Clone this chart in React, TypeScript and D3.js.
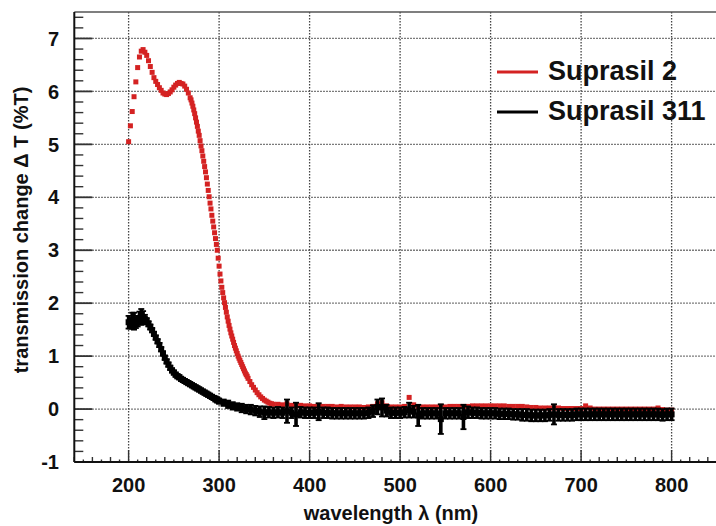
import React from "react";
import * as d3 from "d3";

const xTicks = [200, 300, 400, 500, 600, 700, 800];
const yTicks = [-1, 0, 1, 2, 3, 4, 5, 6, 7];

// Suprasil 2: [wavelength nm, delta T %]
const suprasil2: [number, number][] = [
  [200, 5.05], [202, 5.35], [204, 5.62], [206, 5.9], [208, 6.18], [210, 6.45], [212, 6.65],
  [214, 6.76], [216, 6.79], [218, 6.74], [220, 6.68], [222, 6.58], [224, 6.47], [226, 6.36],
  [228, 6.26], [230, 6.19], [232, 6.13], [234, 6.07], [236, 6.02], [238, 5.97], [240, 5.95],
  [242, 5.94], [244, 5.96], [246, 5.99], [248, 6.03], [250, 6.08], [252, 6.12], [254, 6.15],
  [256, 6.17], [258, 6.15], [260, 6.14], [262, 6.1], [264, 6.04], [266, 5.97], [268, 5.88],
  [269, 5.84], [270, 5.78], [271, 5.72], [272, 5.65], [273, 5.58], [274, 5.5], [275, 5.42],
  [276, 5.34], [277, 5.25], [278, 5.17], [279, 5.07], [280, 4.97], [281, 4.88], [282, 4.78],
  [283, 4.68], [284, 4.58], [285, 4.48], [286, 4.37], [287, 4.25], [288, 4.13], [289, 4.01],
  [290, 3.89], [291, 3.78], [292, 3.66], [293, 3.55], [294, 3.44], [295, 3.33], [296, 3.22],
  [297, 3.11], [298, 3.0], [299, 2.85], [300, 2.7], [301, 2.55], [302, 2.42], [303, 2.3],
  [304, 2.2], [305, 2.1], [306, 2.01], [307, 1.92], [308, 1.83], [309, 1.74], [310, 1.66],
  [311, 1.58], [312, 1.51], [313, 1.44], [314, 1.38], [315, 1.32], [316, 1.26], [317, 1.2],
  [318, 1.15], [319, 1.1], [320, 1.05], [321, 1.0], [322, 0.96], [323, 0.92], [324, 0.88],
  [325, 0.84], [326, 0.8], [327, 0.76], [328, 0.72], [329, 0.68], [330, 0.65], [331, 0.62],
  [332, 0.58], [334, 0.52], [336, 0.46], [338, 0.41], [340, 0.36], [342, 0.31], [344, 0.27],
  [346, 0.23], [348, 0.2], [350, 0.17], [352, 0.15], [354, 0.13], [356, 0.11], [358, 0.1],
  [360, 0.09], [365, 0.09], [370, 0.08], [375, 0.1], [380, 0.07], [385, 0.06], [390, 0.07],
  [395, 0.06], [400, 0.06], [405, 0.05], [410, 0.06], [415, 0.05], [420, 0.05], [425, 0.05],
  [430, 0.04], [435, 0.05], [440, 0.04], [445, 0.04], [450, 0.04], [455, 0.04], [460, 0.03],
  [465, 0.04], [470, 0.05], [475, 0.1], [480, 0.12], [485, 0.06], [490, 0.04], [495, 0.04],
  [500, 0.04], [505, 0.05], [510, 0.22], [515, 0.08], [520, 0.04], [525, 0.04], [530, 0.04],
  [535, 0.04], [540, 0.04], [545, 0.05], [550, 0.04], [555, 0.05], [560, 0.05], [565, 0.05],
  [570, 0.05], [575, 0.05], [580, 0.06], [585, 0.06], [590, 0.06], [595, 0.06], [600, 0.06],
  [605, 0.06], [610, 0.06], [615, 0.06], [620, 0.05], [625, 0.05], [630, 0.05], [635, 0.05],
  [640, 0.04], [645, 0.03], [650, 0.03], [655, 0.02], [660, 0.02], [665, 0.02], [670, 0.02],
  [675, 0.02], [680, 0.01], [685, 0.01], [690, 0.01], [695, 0.01], [700, 0.01], [705, 0.06],
  [710, 0.02], [715, 0.0], [720, 0.0], [725, 0.0], [730, 0.0], [735, 0.0], [740, 0.0],
  [745, 0.0], [750, 0.0], [755, 0.0], [760, 0.0], [765, 0.0], [770, 0.0], [775, 0.0],
  [780, 0.0], [785, 0.02], [790, -0.01], [795, -0.02], [800, -0.02],
];

// Suprasil 311: [wavelength nm, delta T %, error]
const suprasil311: [number, number, number][] = [
  [200, 1.64, 0.12], [202, 1.62, 0.1], [204, 1.67, 0.15], [206, 1.66, 0.16], [208, 1.63, 0.1],
  [210, 1.66, 0.1], [212, 1.72, 0.12], [214, 1.74, 0.15], [216, 1.73, 0.12], [218, 1.7, 0.08],
  [220, 1.66, 0.06], [222, 1.61, 0.05], [224, 1.55, 0.05], [226, 1.49, 0.04], [228, 1.42, 0.04],
  [230, 1.35, 0.04], [232, 1.28, 0.04], [234, 1.21, 0.04], [236, 1.13, 0.04], [238, 1.05, 0.04],
  [240, 0.97, 0.04], [242, 0.9, 0.04], [244, 0.84, 0.04], [246, 0.78, 0.04], [248, 0.73, 0.04],
  [250, 0.69, 0.04], [252, 0.65, 0.04], [254, 0.62, 0.04], [256, 0.6, 0.04], [258, 0.57, 0.04],
  [260, 0.55, 0.04], [262, 0.53, 0.04], [264, 0.51, 0.04], [266, 0.49, 0.04], [268, 0.47, 0.04],
  [270, 0.45, 0.04], [272, 0.43, 0.04], [274, 0.41, 0.04], [276, 0.39, 0.04], [278, 0.37, 0.04],
  [280, 0.35, 0.04], [282, 0.33, 0.04], [284, 0.31, 0.04], [286, 0.29, 0.04], [288, 0.27, 0.04],
  [290, 0.25, 0.04], [292, 0.23, 0.04], [294, 0.21, 0.04], [296, 0.19, 0.05], [298, 0.17, 0.05],
  [300, 0.15, 0.05], [305, 0.12, 0.06], [310, 0.09, 0.07], [315, 0.06, 0.07], [320, 0.04, 0.07],
  [325, 0.02, 0.08], [330, 0.0, 0.08], [335, -0.01, 0.09], [340, -0.03, 0.09], [345, -0.05, 0.1],
  [350, -0.07, 0.12], [355, -0.06, 0.1], [360, -0.07, 0.1], [365, -0.06, 0.1], [370, -0.07, 0.1],
  [375, -0.04, 0.22], [380, -0.07, 0.1], [385, -0.1, 0.22], [390, -0.06, 0.1], [395, -0.07, 0.1],
  [400, -0.07, 0.1], [405, -0.07, 0.1], [410, -0.05, 0.16], [415, -0.07, 0.1], [420, -0.07, 0.1],
  [425, -0.08, 0.1], [430, -0.08, 0.1], [435, -0.08, 0.1], [440, -0.08, 0.1], [445, -0.08, 0.1],
  [450, -0.08, 0.1], [455, -0.08, 0.1], [460, -0.08, 0.1], [465, -0.07, 0.1], [470, -0.04, 0.11],
  [475, 0.04, 0.14], [480, 0.03, 0.17], [485, -0.03, 0.11], [490, -0.07, 0.1], [495, -0.07, 0.1],
  [500, -0.07, 0.1], [505, -0.06, 0.1], [510, -0.02, 0.14], [515, -0.05, 0.11], [520, -0.12, 0.2],
  [525, -0.08, 0.1], [530, -0.08, 0.1], [535, -0.08, 0.1], [540, -0.08, 0.1], [545, -0.19, 0.28],
  [550, -0.08, 0.1], [555, -0.08, 0.1], [560, -0.08, 0.1], [565, -0.08, 0.1], [570, -0.15, 0.23],
  [575, -0.06, 0.11], [580, -0.07, 0.1], [585, -0.07, 0.1], [590, -0.08, 0.1], [595, -0.08, 0.1],
  [600, -0.08, 0.1], [605, -0.08, 0.1], [610, -0.09, 0.1], [615, -0.09, 0.1], [620, -0.09, 0.1],
  [625, -0.1, 0.1], [630, -0.1, 0.1], [635, -0.11, 0.11], [640, -0.11, 0.11], [645, -0.12, 0.11],
  [650, -0.12, 0.11], [655, -0.12, 0.11], [660, -0.12, 0.11], [665, -0.11, 0.11], [670, -0.1, 0.19],
  [675, -0.11, 0.11], [680, -0.11, 0.11], [685, -0.11, 0.11], [690, -0.11, 0.11], [695, -0.1, 0.11],
  [700, -0.1, 0.11], [705, -0.1, 0.11], [710, -0.1, 0.11], [715, -0.1, 0.11], [720, -0.1, 0.11],
  [725, -0.1, 0.11], [730, -0.1, 0.11], [735, -0.1, 0.11], [740, -0.1, 0.11], [745, -0.1, 0.11],
  [750, -0.1, 0.11], [755, -0.1, 0.11], [760, -0.1, 0.11], [765, -0.1, 0.11], [770, -0.1, 0.11],
  [775, -0.1, 0.11], [780, -0.1, 0.11], [785, -0.1, 0.11], [790, -0.11, 0.11], [795, -0.1, 0.11],
  [800, -0.1, 0.11],
];

const legendLabels = ["Suprasil 2", "Suprasil 311"];
const RED = "#d42222";
const FONT = "'Liberation Sans', Arial, Helvetica, sans-serif";

export default function App() {
  const width = 716;
  const height = 526;

  const x = d3.scaleLinear().domain([140, 860]).range([74.3, 725.9]);
  const y = d3.scaleLinear().domain([-1, 7.5]).range([462, 12]);

  const yMinor = d3.range(-1, 7.5, 0.2);
  const xMinor = d3.range(140, 861, 10);
  const ms = 5; // red marker
  const mb = 6; // black marker

  return (
    <svg width={width} height={height}
      style={{ position: "absolute", left: 0, top: 0, background: "#fff" }}
      fontFamily={FONT}>
      {/* grid */}
      <g stroke="#444" strokeWidth={1.3} strokeDasharray="1.4,1.6">
        {xTicks.map(t => (
          <line key={"gx" + t} x1={x(t)} x2={x(t)} y1={y(7.5)} y2={y(-1)} />
        ))}
        {yTicks.filter(t => t > -1).map(t => (
          <line key={"gy" + t} x1={x(140)} x2={width} y1={y(t)} y2={y(t)} />
        ))}
      </g>

      {/* ticks */}
      <g stroke="#333">
        {yMinor.map(t => {
          const major = Math.abs(t - Math.round(t)) < 1e-6;
          return (
            <line key={"ty" + t} x1={x(140)} x2={x(140) + (major ? 18 : 9)}
              y1={y(t)} y2={y(t)} strokeWidth={major ? 1.8 : 1.4} />
          );
        })}
        {xMinor.map(t => {
          const len = t % 100 === 0 ? 12 : t % 20 === 0 ? 5 : 2.5;
          return (
            <line key={"tx" + t} x1={x(t)} x2={x(t)} y1={y(-1)} y2={y(-1) - len}
              strokeWidth={1.4} />
          );
        })}
      </g>

      {/* frame */}
      <line x1={x(140)} x2={width} y1={y(7.5)} y2={y(7.5)} stroke="#555" strokeWidth={1.6} />
      <line x1={x(140)} x2={x(140)} y1={y(7.5)} y2={y(-1)} stroke="#111" strokeWidth={2} />
      <line x1={x(140)} x2={width} y1={y(-1)} y2={y(-1)} stroke="#111" strokeWidth={2.2} />

      {/* Suprasil 2 */}
      <g fill={RED}>
        {suprasil2.map(([w, v]) => (
          <rect key={"r" + w} x={x(w) - ms / 2} y={y(v) - ms / 2} width={ms} height={ms} />
        ))}
      </g>

      {/* Suprasil 311 */}
      <g stroke="#000" strokeWidth={3.6}>
        {suprasil311.map(([w, v, e]) => (
          <g key={"b" + w}>
            <line x1={x(w)} x2={x(w)} y1={y(v - e)} y2={y(v + e)} />
            <line x1={x(w) - 3} x2={x(w) + 3} y1={y(v - e)} y2={y(v - e)} strokeWidth={1.8} />
            <line x1={x(w) - 3} x2={x(w) + 3} y1={y(v + e)} y2={y(v + e)} strokeWidth={1.8} />
          </g>
        ))}
      </g>
      <g fill="#000">
        {suprasil311.map(([w, v]) => (
          <rect key={"bm" + w} x={x(w) - mb / 2} y={y(v) - mb / 2} width={mb} height={mb} />
        ))}
      </g>

      {/* tick labels */}
      <g fontSize={20} fontWeight="bold" fill="#111">
        {yTicks.map(t => (
          <text key={"ly" + t} x={59} y={y(t)} dy="0.36em" textAnchor="end">{t}</text>
        ))}
        {xTicks.map(t => (
          <text key={"lx" + t} x={x(t)} y={492} textAnchor="middle">{t}</text>
        ))}
      </g>

      {/* axis titles */}
      <text x={391} y={520} textAnchor="middle" fontSize={20} fontWeight="bold" fill="#111">
        wavelength λ (nm)
      </text>
      <text transform="translate(28,230) rotate(-90)" textAnchor="middle" fontSize={20}
        fontWeight="bold" fill="#111">
        transmission change Δ T (%T)
      </text>

      {/* legend */}
      {legendLabels.map((l, i) => (
        <g key={l}>
          <line x1={497} x2={538} y1={72 + i * 40} y2={72 + i * 40}
            stroke={i === 0 ? RED : "#000"} strokeWidth={3} />
          <text x={548} y={80 + i * 40} fontSize={27} fontWeight="bold" fill="#111">{l}</text>
        </g>
      ))}
    </svg>
  );
}
